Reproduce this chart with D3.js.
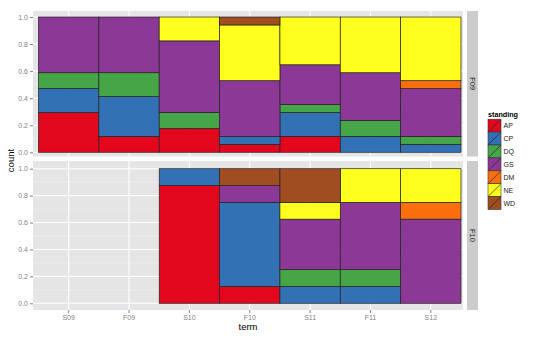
<!DOCTYPE html>
<html>
<head>
<meta charset="utf-8">
<script src="https://cdn.jsdelivr.net/npm/d3@7"></script>
<style>
  html, body { margin: 0; padding: 0; background: #fff; }
  svg { display: block; font-family: "Liberation Sans", Arial, sans-serif; }
</style>
</head>
<body>
<svg id="chart" width="540" height="338"></svg>
<script>
// ---- data ----
const terms = ["S09", "F09", "S10", "F10", "S11", "F11", "S12"];
const standings = ["AP", "CP", "DQ", "GS", "DM", "NE", "WD"];
const cohorts = ["F09", "F10"];
// counts per standing (rows, in standings order) per term (columns)
const countsF09 = [
  [5, 2, 3, 1, 2, 0, 0], // AP
  [3, 5, 0, 1, 3, 2, 1], // CP
  [2, 3, 2, 0, 1, 2, 1], // DQ
  [7, 7, 9, 7, 5, 6, 6], // GS
  [0, 0, 0, 0, 0, 0, 1], // DM
  [0, 0, 3, 7, 6, 7, 8], // NE
  [0, 0, 0, 1, 0, 0, 0]  // WD
];
const countsF10 = [
  [0, 0, 7, 1, 0, 0, 0], // AP
  [0, 0, 1, 5, 1, 1, 0], // CP
  [0, 0, 0, 0, 1, 1, 0], // DQ
  [0, 0, 0, 1, 3, 4, 5], // GS
  [0, 0, 0, 0, 0, 0, 1], // DM
  [0, 0, 0, 0, 1, 2, 2], // NE
  [0, 0, 0, 1, 2, 0, 0]  // WD
];
const yTicks = [0, 0.2, 0.4, 0.6, 0.8, 1.0];
const yMinor = [0.1, 0.3, 0.5, 0.7, 0.9];
const palette = ["#E2071C", "#3271B4", "#45A547", "#8C3896", "#FA6E0E", "#FFFF1E", "#A04D22"];

// ---- layout ----
const svg = d3.select("#chart");
const panelX0 = 33, panelX1 = 463;
const panels = [
  { cohort: "F09", counts: countsF09, top: 11, bottom: 156.5, y0: 152.3, y1: 17 },
  { cohort: "F10", counts: countsF10, top: 161, bottom: 310, y0: 303.3, y1: 168.7 }
];
const x = d3.scaleBand().domain(terms).range([38.5, 461]).padding(0);
const color = d3.scaleOrdinal().domain(standings).range(palette);

panels.forEach((p, pi) => {
  const y = d3.scaleLinear().domain([0, 1]).range([p.y0, p.y1]);
  const g = svg.append("g");
  g.append("rect").attr("x", panelX0).attr("y", p.top)
    .attr("width", panelX1 - panelX0).attr("height", p.bottom - p.top)
    .attr("fill", "#E5E5E5");
  // minor grid
  g.selectAll(".minor").data(yMinor).enter().append("line")
    .attr("x1", panelX0).attr("x2", panelX1)
    .attr("y1", d => y(d)).attr("y2", d => y(d))
    .attr("stroke", "#F2F2F2").attr("stroke-width", 0.6);
  // major grid
  g.selectAll(".major").data(yTicks).enter().append("line")
    .attr("x1", panelX0).attr("x2", panelX1)
    .attr("y1", d => y(d)).attr("y2", d => y(d))
    .attr("stroke", "#FFFFFF").attr("stroke-width", 1.1);
  g.selectAll(".vgrid").data(terms).enter().append("line")
    .attr("x1", d => x(d) + x.bandwidth() / 2).attr("x2", d => x(d) + x.bandwidth() / 2)
    .attr("y1", p.top).attr("y2", p.bottom)
    .attr("stroke", "#FFFFFF").attr("stroke-width", 1.1);

  // stacked, normalised bars
  const rows = terms.map((t, ti) => {
    const o = { term: t };
    standings.forEach((s, si) => { o[s] = p.counts[si][ti]; });
    return o;
  });
  const stack = d3.stack().keys(standings).offset(d3.stackOffsetExpand);
  const series = stack(rows);
  series.forEach(s => {
    g.selectAll(null).data(s.filter(d => d[1] - d[0] > 0 && isFinite(d[1]))).enter().append("rect")
      .attr("x", d => x(d.data.term))
      .attr("width", x.bandwidth())
      .attr("y", d => y(d[1]))
      .attr("height", d => y(d[0]) - y(d[1]))
      .attr("fill", color(s.key))
      .attr("stroke", "#222")
      .attr("stroke-width", 0.7);
  });

  // y axis
  const ya = d3.axisLeft(y).tickValues(yTicks).tickFormat(d3.format(".1f")).tickSize(3).tickPadding(2);
  const yg = svg.append("g").attr("transform", `translate(${panelX0},0)`).call(ya);
  yg.select(".domain").remove();
  yg.selectAll("line").attr("stroke", "#7F7F7F");
  yg.selectAll("text").attr("fill", "#7F7F7F").attr("font-size", 7)
    .attr("font-family", "Liberation Sans, Arial, sans-serif");

  // strip
  svg.append("rect").attr("x", 467).attr("y", p.top).attr("width", 11).attr("height", p.bottom - p.top)
    .attr("fill", "#CCCCCC");
  const cy = (p.top + p.bottom) / 2;
  svg.append("text").attr("transform", `translate(472.5,${cy}) rotate(90)`)
    .attr("text-anchor", "middle").attr("dominant-baseline", "central")
    .attr("font-size", 7.5).attr("fill", "#1A1A1A").text(p.cohort);
});

// x axis (bottom)
const xa = d3.axisBottom(x).tickSize(3).tickPadding(2);
const xg = svg.append("g").attr("transform", "translate(0,310)").call(xa);
xg.select(".domain").remove();
xg.selectAll("line").attr("stroke", "#7F7F7F");
xg.selectAll("text").attr("fill", "#7F7F7F").attr("font-size", 7)
  .attr("font-family", "Liberation Sans, Arial, sans-serif");

// axis titles
svg.append("text").attr("x", (panelX0 + panelX1) / 2).attr("y", 330)
  .attr("text-anchor", "middle").attr("font-size", 9.5).attr("fill", "#000").text("term");
svg.append("text").attr("transform", `translate(14,160.5) rotate(-90)`)
  .attr("text-anchor", "middle").attr("font-size", 9.5).attr("fill", "#000").text("count");

// legend
const lg = svg.append("g").attr("transform", "translate(488,0)");
lg.append("text").attr("x", 0).attr("y", 117).attr("font-size", 7.2).attr("font-weight", "bold")
  .attr("fill", "#000").text("standing");
const kh = 12.9, kw = 13, ky0 = 119.2;
standings.forEach((s, i) => {
  const yy = ky0 + i * kh;
  lg.append("rect").attr("x", 0).attr("y", yy).attr("width", kw).attr("height", kh)
    .attr("fill", color(s)).attr("stroke", "#333").attr("stroke-width", 0.6);
  lg.append("line").attr("x1", 0.5).attr("y1", yy + kh - 0.5).attr("x2", kw - 0.5).attr("y2", yy + 0.5)
    .attr("stroke", "#222").attr("stroke-width", 0.7);
  lg.append("text").attr("x", kw + 2.5).attr("y", yy + kh / 2).attr("dominant-baseline", "central")
    .attr("font-size", 7).attr("fill", "#1A1A1A").text(s);
});
</script>
</body>
</html>
